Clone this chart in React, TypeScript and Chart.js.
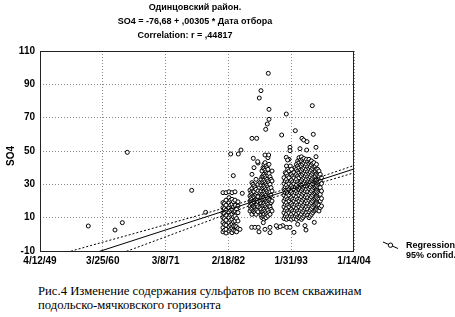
import React, { useEffect, useRef } from 'react';
import { Chart, registerables } from 'chart.js';

Chart.register(...registerables);

// ---- text ----
const titleLines = ['Одинцовский район.', 'SO4 = -76,68 + ,00305 * Дата отбора', 'Correlation: r = ,44817'];
const yAxisTitle = 'SO4';
const legendLabels = ['Regression', '95% confid.'];
const captionLines = [
  'Рис.4 Изменение содержания сульфатов по всем скважинам',
  'подольско-мячковского горизонта',
];

// ---- axes (x = date serial, days) ----
const xTickValues = [18000, 22000, 26000, 30000, 34000, 38000];
const xTickLabels = ['4/12/49', '3/25/60', '3/8/71', '2/18/82', '1/31/93', '1/14/04'];
const yTickValues = [-10, 10, 30, 50, 70, 90, 110];

// ---- regression (from the title) ----
const regIntercept = -76.68;
const regSlope = 0.00305;

// ---- 95% confidence band ----
const bandDates = [18000, 20000, 22000, 24000, 26000, 28000, 30000, 32000, 34000, 36000, 38000];
const bandUpper = [-15.2, -10.0, -4.7, 0.5, 5.8, 11.1, 16.5, 22.2, 28.3, 34.9, 41.3];
const bandLower = [-29.0, -22.2, -15.3, -8.5, -1.5, 5.5, 12.5, 19.4, 25.6, 31.3, 36.9];

// ---- observations: [date, SO4] ----
const earlyPoints: [number, number][] = [
  [21077, 5.0], [22777, 2.6], [23243, 7.0], [23561, 49.2], [27661, 26.4], [28551, 13.2],
];

// columns of samples: [date, SO4 values]
const cluster82: [number, number[]][] = [
  [29655, [1.5, 4, 7, 10, 13, 16, 19, 25]],
  [29750, [2.5, 6, 9.5, 12.5, 15.5, 18.5]],
  [29850, [0.8, 3, 5.5, 8.5, 11.5, 14.5, 17.5, 20.5, 25]],
  [30040, [2, 4.5, 7, 10, 13, 16, 19, 22, 25.5]],
  [30135, [3, 5.5, 8.5, 11.5, 14.5, 17.5, 20.5]],
  [30230, [1, 3.5, 6, 9, 12, 15, 18, 21, 25]],
  [30325, [2.5, 5, 7.5, 10.5, 13.5, 16.5, 19.5]],
  [30420, [2, 5, 8, 11, 14, 17.5, 20.5, 25.5]],
  [30520, [1.5, 4.5, 9.5, 15]],
  [30610, [3.5, 8, 13, 17, 19.5]],
];
const extra82: [number, number][] = [
  [30885, 24.6], [30738, 3], [30311, 35.2], [30146, 48.2], [30630, 48.2], [30802, 50.6],
];

const cluster87: [number, number[]][] = [
  [31375, [14, 17, 20, 23, 26.5]],
  [31440, [15.5, 19, 22, 25]],
  [31500, [12, 15, 18, 21, 24, 27.5, 31, 36]],
  [31570, [14, 17, 20, 23, 26, 30]],
  [31630, [13.5, 16.5, 19.5, 22.5, 25.5, 29, 40]],
  [31700, [13, 16, 20.5, 23.5, 28]],
  [31760, [12, 15, 18, 21, 24, 27, 33]],
  [31820, [14.5, 18, 21.5, 25]],
  [31885, [13.5, 16.5, 19.5, 22.5, 26, 30, 42.8]],
  [32012, [16, 20, 25, 31]],
  [32080, [11.5, 15, 18.5, 22, 26, 29.5, 33]],
  [32140, [10, 13.5, 17, 20.5, 24, 27.5, 31, 34.5, 38]],
  [32205, [11, 14, 17.5, 21, 24.5, 28, 31.5, 35, 40]],
  [32270, [9, 12, 15, 18.5, 22, 25.5, 29, 32.5, 36, 39.5, 42]],
  [32335, [10.5, 14, 17.5, 21, 24.5, 28, 31.5, 35, 38.5, 43]],
  [32400, [10, 13, 16.5, 20, 23.5, 27, 30.5, 34, 37.5, 41]],
  [32460, [12, 15.5, 19, 22.5, 26, 29.5, 33, 36.5, 40]],
  [32520, [11, 14.5, 18, 21.5, 25, 28.5, 32, 35.5, 39, 46]],
  [32585, [13, 17, 20.5, 24, 27.5, 31, 36.5, 42]],
  [32650, [12, 16.5, 21, 25.5, 30, 34.5]],
  [32715, [15, 19, 23.5, 28, 33]],
  [32780, [14, 20, 26, 32, 38]],
];
const extra87: [number, number][] = [
  [32541, 96.6], [32075, 86.2], [31967, 81.8], [32585, 75], [32585, 69], [32477, 66.2],
  [32375, 63], [31502, 57.6], [31801, 57.6], [31585, 45.6], [32330, 47.6], [32566, 47.6],
  [31865, 43.6], [31483, 4.2], [31693, 4.2], [31903, 4.2], [32222, 7], [32330, 3],
  [32649, 4.2], [33139, 4.2], [32649, 1], [31950, 1.5],
];

const cluster93: [number, number[]][] = [
  [33540, [9.5, 13, 16.5, 20, 23.5, 27, 30.5, 34]],
  [33620, [11, 14.5, 18, 21.5, 25, 28.5, 32, 37]],
  [33700, [9, 12, 15.5, 19, 22.5, 26, 29.5, 33, 36.5, 41]],
  [33780, [10.5, 14, 17.5, 21, 24.5, 28, 31.5, 35, 39]],
  [33859, [9.5, 13, 16.5, 20, 23.5, 27, 30.5, 34, 38, 45]],
  [33940, [11, 14.5, 18, 21.5, 25, 28.5, 32, 36, 41]],
  [34018, [9, 12, 15, 18.5, 22, 25.5, 29, 32.5, 36, 39]],
  [34100, [10.5, 14, 17.5, 21, 24.5, 28, 31.5, 35]],
  [34177, [9.5, 13, 16.5, 20, 23.5, 27, 30.5, 34, 37]],
  [34257, [11, 14.5, 18, 21.5, 25, 28.5, 32, 35.5, 40]],
  [34337, [9, 12, 15.5, 19, 22.5, 26, 29.5, 33, 36, 39, 42]],
  [34417, [10.5, 14, 17.5, 21, 24.5, 28, 31.5, 35, 38, 41, 44]],
  [34496, [10, 13, 16.5, 20, 23.5, 27, 30.5, 34, 37, 40, 43, 46]],
  [34575, [11, 14.5, 18, 21.5, 25, 28, 31.5, 35.5, 38.5, 41.5, 44.5]],
  [34655, [9, 12, 15.5, 19, 22.5, 26, 29, 32, 35, 38, 41, 44, 46.5]],
  [34735, [10, 13.5, 17, 20.5, 24, 27, 30, 33, 36, 39, 42, 45]],
  [34814, [11, 14.5, 18, 21.5, 25, 28, 31, 34, 37, 40, 43, 45.5]],
  [34894, [12, 15.5, 19, 22.5, 26, 29, 32, 35, 38, 41, 44]],
  [34974, [13, 16.5, 20, 23.5, 27, 30, 33, 36, 39, 42, 45]],
  [35053, [11.5, 15, 18.5, 22, 25.5, 28.5, 31.5, 34.5, 37.5, 40.5, 43.5]],
  [35133, [10, 13.5, 17, 20.5, 24, 27.5, 30.5, 33.5, 36.5, 39.5, 42.5, 45]],
  [35212, [11, 14.5, 18, 21.5, 25, 28.5, 31.5, 34.5, 37.5, 40.5, 43.5]],
  [35292, [12, 15.5, 19, 22.5, 26, 29.5, 32.5, 35.5, 38.5, 41.5, 44]],
  [35371, [13, 16.5, 20, 23.5, 27, 30.5, 33.5, 36.5, 39.5, 42.5]],
  [35451, [14, 17.5, 21, 24.5, 28, 31.5, 34.5, 37.5, 40.5, 43]],
  [35530, [14.5, 18, 21.5, 25, 28.5, 32, 35, 38, 41]],
  [35610, [15, 18.5, 22, 25.5, 29, 32.5, 36, 39, 42]],
  [35690, [14.5, 18, 21.5, 25, 28.5, 32, 35.5, 39]],
  [35770, [14, 17.5, 21, 24.5, 28, 31.5, 35, 38]],
  [35850, [16, 20, 24, 28, 32, 36]],
  [35929, [17, 21.5, 26, 30.5, 34]],
];
const extra93: [number, number][] = [
  [33687, 72.2], [35343, 77.2], [33394, 59.6], [34260, 62.2], [34687, 57.6], [34794, 56.6],
  [35005, 55.6], [35407, 60], [33922, 52.2], [33922, 50.2], [34559, 51.4], [34986, 50.6],
  [35578, 52.2], [33687, 46.2], [33770, 44.6], [35578, 46.6], [33457, 5.2], [33712, 4.2],
  [33922, 4.2], [34177, 1.2], [34413, 6], [34878, 5.2], [34941, 2.6], [35470, 7.2],
  [33300, 4.6], [33050, 5.2],
];

function flatten(cols: [number, number[]][]): { x: number; y: number }[] {
  const out: { x: number; y: number }[] = [];
  cols.forEach(([d, vals]) => vals.forEach((v) => out.push({ x: d, y: v })));
  return out;
}
function pairs(p: [number, number][]) {
  return p.map(([x, y]) => ({ x, y }));
}

const FONT = "'Liberation Sans', Arial, sans-serif";

const overlayPlugin = {
  id: 'overlay',
  afterDraw(chart: any) {
    const { ctx, chartArea: a } = chart;
    ctx.save();
    // frame
    ctx.strokeStyle = '#222';
    ctx.lineWidth = 1;
    ctx.setLineDash([]);
    ctx.strokeRect(a.left + 0.5, a.top + 0.5, a.right - a.left - 1, a.bottom - a.top);

    ctx.fillStyle = '#000';
    ctx.textAlign = 'center';
    ctx.textBaseline = 'middle';
    ctx.font = `bold 9px ${FONT}`;
    const tx = [195, 195, 185];
    const ty = [8, 22, 36];
    titleLines.forEach((t, i) => ctx.fillText(t, tx[i], ty[i]));

    // y axis title
    ctx.save();
    ctx.translate(11, (a.top + a.bottom) / 2 + 5);
    ctx.rotate(-Math.PI / 2);
    ctx.font = `bold 10px ${FONT}`;
    ctx.fillText(yAxisTitle, 0, 0);
    ctx.restore();

    // legend
    ctx.strokeStyle = '#000';
    ctx.lineWidth = 1;
    ctx.beginPath();
    ctx.moveTo(383, 242);
    ctx.lineTo(398, 248.5);
    ctx.stroke();
    ctx.fillStyle = '#fff';
    ctx.beginPath();
    ctx.arc(390.5, 245.2, 2.2, 0, Math.PI * 2);
    ctx.fill();
    ctx.stroke();
    ctx.fillStyle = '#000';
    ctx.textAlign = 'left';
    ctx.font = `bold 9px ${FONT}`;
    ctx.fillText(legendLabels[0], 406, 245.5);
    ctx.fillText(legendLabels[1], 406, 256);
    ctx.restore();
  },
};

export default function App() {
  const ref = useRef<HTMLCanvasElement | null>(null);

  useEffect(() => {
    if (!ref.current) return;
    const xMin = xTickValues[0];
    const xMax = xTickValues[xTickValues.length - 1];
    const regData = [
      { x: xMin, y: regIntercept + regSlope * xMin },
      { x: xMax, y: regIntercept + regSlope * xMax },
    ];
    const upper = bandDates.map((d, i) => ({ x: d, y: bandUpper[i] }));
    const lower = bandDates.map((d, i) => ({ x: d, y: bandLower[i] }));
    const points = [
      ...pairs(earlyPoints),
      ...flatten(cluster82), ...pairs(extra82),
      ...flatten(cluster87), ...pairs(extra87),
      ...flatten(cluster93), ...pairs(extra93),
    ];

    const lineBase = {
      showLine: true,
      pointRadius: 0,
      borderColor: '#000',
      borderWidth: 1,
      fill: false,
    };

    const chart = new Chart(ref.current, {
      type: 'scatter',
      data: {
        datasets: [
          { ...lineBase, data: regData },
          { ...lineBase, data: upper, borderDash: [2, 2] },
          { ...lineBase, data: lower, borderDash: [2, 2] },
          {
            data: points,
            pointRadius: 2,
            pointBorderWidth: 1,
            pointBorderColor: '#000',
            pointBackgroundColor: '#fff',
          },
        ],
      } as any,
      options: {
        animation: false,
        responsive: false,
        devicePixelRatio: 1,
        layout: { padding: { top: 51, right: 101, left: 0, bottom: 0 } },
        plugins: { legend: { display: false }, tooltip: { enabled: false }, title: { display: false } },
        scales: {
          x: {
            type: 'linear',
            min: xMin,
            max: xMax,
            afterBuildTicks: (s: any) => { s.ticks = xTickValues.map((v) => ({ value: v })); },
            afterFit: (s: any) => { s.height = 24; },
            grid: { color: '#8a8a8a', lineWidth: 1, drawTicks: false },
            border: { display: false, dash: [1, 2] },
            ticks: {
              padding: 4,
              color: '#000',
              maxRotation: 0,
              autoSkip: false,
              font: { family: FONT, size: 10, weight: 'bold' },
              callback: (_v: any, i: number) => xTickLabels[i],
            },
          },
          y: {
            type: 'linear',
            min: yTickValues[0],
            max: yTickValues[yTickValues.length - 1],
            afterBuildTicks: (s: any) => { s.ticks = yTickValues.map((v) => ({ value: v })); },
            afterFit: (s: any) => { s.width = 40; },
            grid: { color: '#8a8a8a', lineWidth: 1, drawTicks: false },
            border: { display: false, dash: [1, 2] },
            ticks: {
              padding: 5,
              color: '#000',
              autoSkip: false,
              font: { family: FONT, size: 10, weight: 'bold' },
              callback: (v: any) => String(v),
            },
          },
        },
      } as any,
      plugins: [overlayPlugin],
    });
    return () => chart.destroy();
  }, []);

  return (
    <div style={{ position: 'absolute', left: 0, top: 0, width: 455, height: 317, background: '#fff', overflow: 'hidden' }}>
      <canvas ref={ref} width={455} height={275} style={{ display: 'block', width: 455, height: 275 }} />
      <div
        style={{
          position: 'absolute',
          left: 38,
          top: 284,
          fontFamily: "'Liberation Serif', 'Times New Roman', serif",
          fontSize: 12.7,
          lineHeight: '14px',
          color: '#000',
          whiteSpace: 'nowrap',
        }}
      >
        {captionLines.map((l, i) => (
          <div key={i}>{l}</div>
        ))}
      </div>
    </div>
  );
}
